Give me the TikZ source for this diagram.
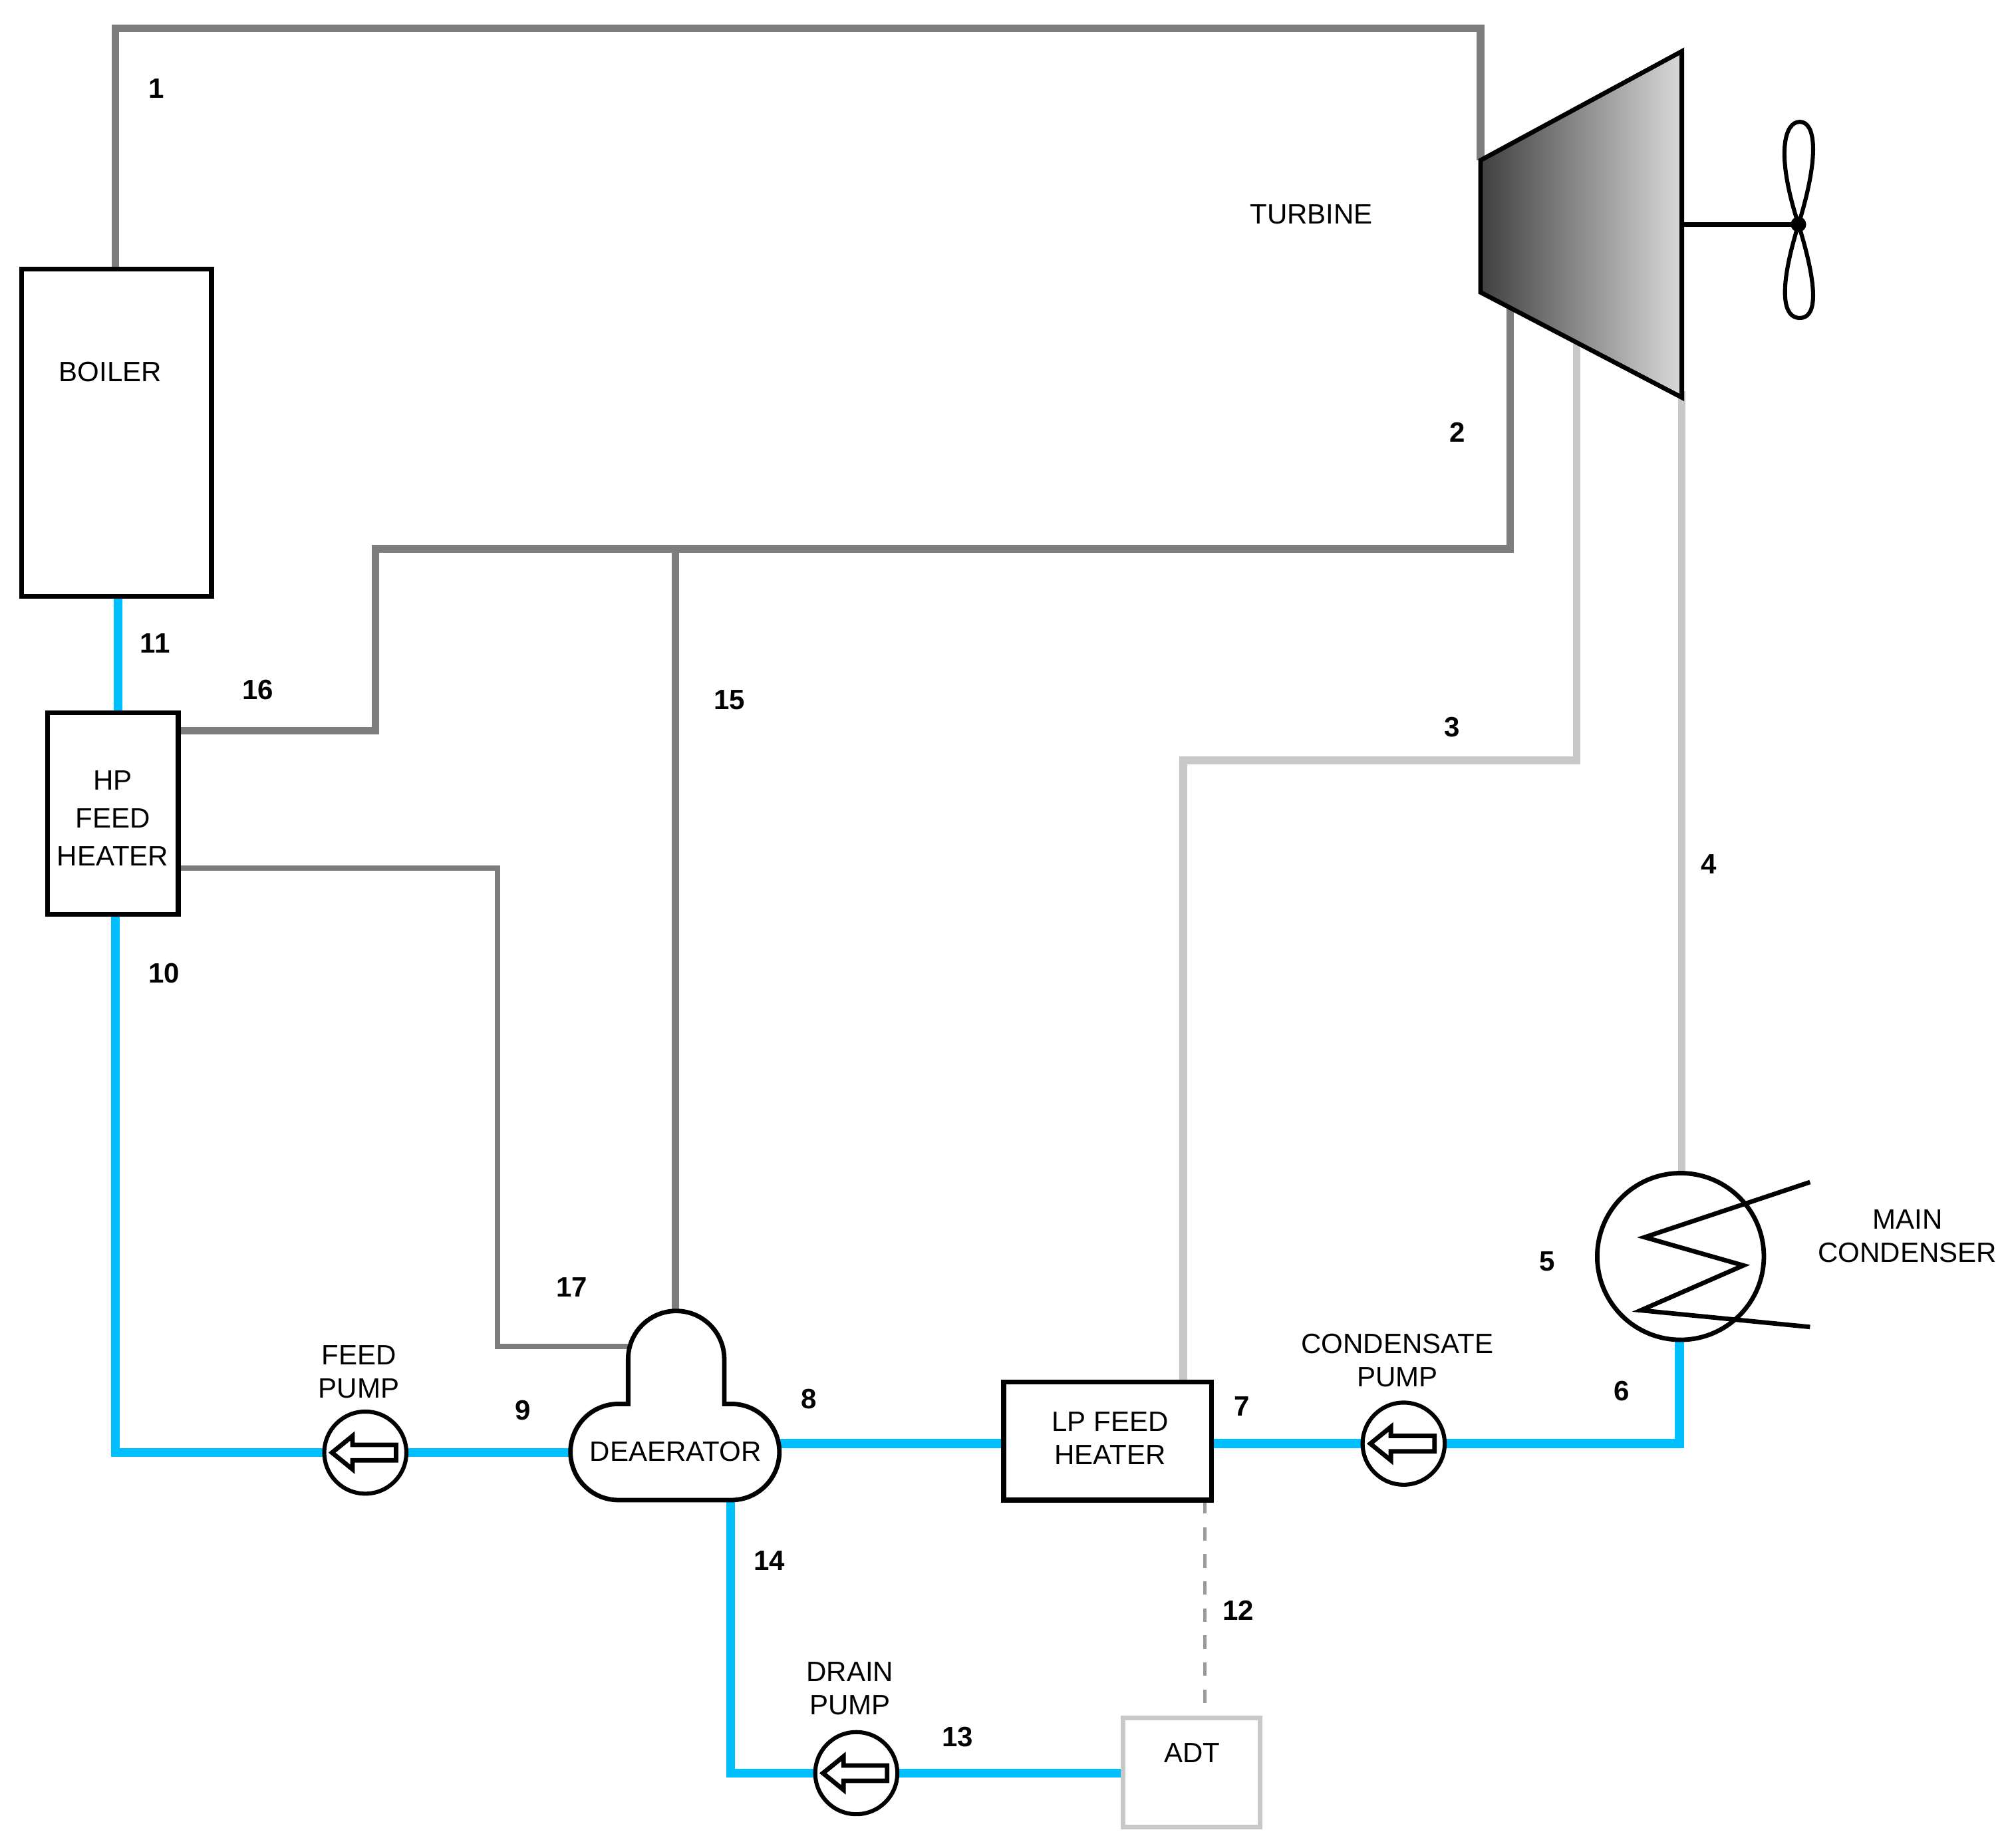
\documentclass[tikz,border=0pt]{standalone}
\usepackage{fontspec}
\setmainfont{Liberation Sans}
\begin{document}
\begin{tikzpicture}[x=0.01cm,y=-0.01cm,
  gl/.style={line width=1.7pt,draw={rgb,255:red,125;green,125;blue,125}},
  lg/.style={line width=1.7pt,draw={rgb,255:red,200;green,200;blue,200}},
  bl/.style={line width=2pt,draw={rgb,255:red,0;green,191;blue,255}},
  box/.style={line width=1.1pt,draw=black,fill=white},
  lab/.style={font=\fontsize{6.2}{7.4}\selectfont,align=center},
  num/.style={font=\fontsize{6.2}{7.4}\selectfont\bfseries},
  pump/.style={circle,draw=black,line width=0.9pt,fill=white,minimum size=0.64cm,inner sep=0pt}]
\useasboundingbox (0,0) rectangle (1568,1441);
% steam lines
\draw[gl] (90,210) -- (90,22) -- (1155,22) -- (1155,125);
\draw[gl] (1178,235) -- (1178,428) -- (293,428) -- (293,570) -- (139,570);
\draw[gl] (527,428) -- (527,1022);
\draw[gl,line width=1.2pt] (139,677) -- (388,677) -- (388,1050) -- (490,1050);
\draw[lg] (1230,265) -- (1230,593) -- (923,593) -- (923,1080);
\draw[lg] (1312,305) -- (1312,915);
\draw[dashed,line width=0.8pt,gray!80] (940,1170) -- (940,1340);
% water lines
\draw[bl] (92,465) -- (92,556);
\draw[bl] (1310,1042) -- (1310,1126) -- (945,1126);
\draw[bl] (783,1126) -- (608,1126);
\draw[bl] (445,1133) -- (90,1133) -- (90,713);
\draw[bl] (570,1170) -- (570,1383) -- (878,1383);
% boxes
\node[box,minimum width=1.48cm,minimum height=2.55cm] (boiler) at (91,337.5) {};
\node[lab] at (86,290) {BOILER};
\node[box,minimum width=1.02cm,minimum height=1.57cm] (hp) at (88,634.5) {};
\node[lab,inner sep=0pt] at (88,638) {HP\\[1pt]FEED\\[1pt]HEATER};
\node[box,minimum width=1.62cm,minimum height=0.92cm] (lp) at (864,1124) {};
\node[lab] at (866,1122) {LP FEED\\HEATER};
\node[draw={rgb,255:red,200;green,200;blue,200},line width=1pt,fill=white,minimum width=1.07cm,minimum height=0.85cm] (adt) at (929.5,1382.5) {};
\node[lab] at (930,1367) {ADT};
% turbine
\shade[left color=black!75,right color=black!15] (1155,125) -- (1312,40) -- (1312,310) -- (1155,228) -- cycle;
\draw[line width=1pt] (1155,125) -- (1312,40) -- (1312,310) -- (1155,228) -- cycle;
\draw[line width=1pt] (1312,175) -- (1403,175);
\draw[line width=0.9pt] (1403,175) .. controls (1385,120) and (1392,95) .. (1404,95) .. controls (1416,95) and (1420,120) .. (1403,175) .. controls (1386,230) and (1392,248) .. (1404,248) .. controls (1416,248) and (1420,230) .. (1403,175);
\fill (1403,175) circle (6);
\node[lab] at (1023,167) {TURBINE};
% condenser
\draw[line width=1pt,fill=white] (1311,980) circle (65);
\draw[line width=1pt] (1412,922) -- (1283,965) -- (1360,987) -- (1280,1022) -- (1412,1035);
\node[lab] at (1488,964) {MAIN\\CONDENSER};
% deaerator
\draw[line width=1pt,fill=white] (490,1095) -- (490,1060) arc (180:360:37.5) -- (565,1095) -- (570.5,1095) arc (-90:90:37.5) -- (482.5,1170) arc (90:270:37.5) -- cycle;
\node[lab] at (527,1132) {DEAERATOR};
% pumps
\foreach \n/\x/\y in {fp/285/1133, cp/1095/1126, dp/668/1383}{
  \node[pump] (\n) at (\x,\y) {};
  \draw[line width=1pt,fill=white] (\x-26,\y) -- (\x-10,\y-13) -- (\x-10,\y-6) -- (\x+24,\y-6) -- (\x+24,\y+6) -- (\x-10,\y+6) -- (\x-10,\y+13) -- cycle;
}
\node[lab] at (280,1070) {FEED\\PUMP};
\node[lab] at (1090,1061) {CONDENSATE\\PUMP};
\node[lab] at (663,1317) {DRAIN\\PUMP};
% numbers
\foreach \t/\x/\y in {1/122/69,2/1137/337,3/1133/567,4/1333/674,5/1207/984,6/1265/1085,7/969/1097,8/631/1091,9/408/1100,10/128/759,11/121/502,16/201/538,15/569/546,17/446/1004,14/600/1217,12/966/1256,13/747/1355}
  \node[num] at (\x,\y) {\t};
\end{tikzpicture}
\end{document}
